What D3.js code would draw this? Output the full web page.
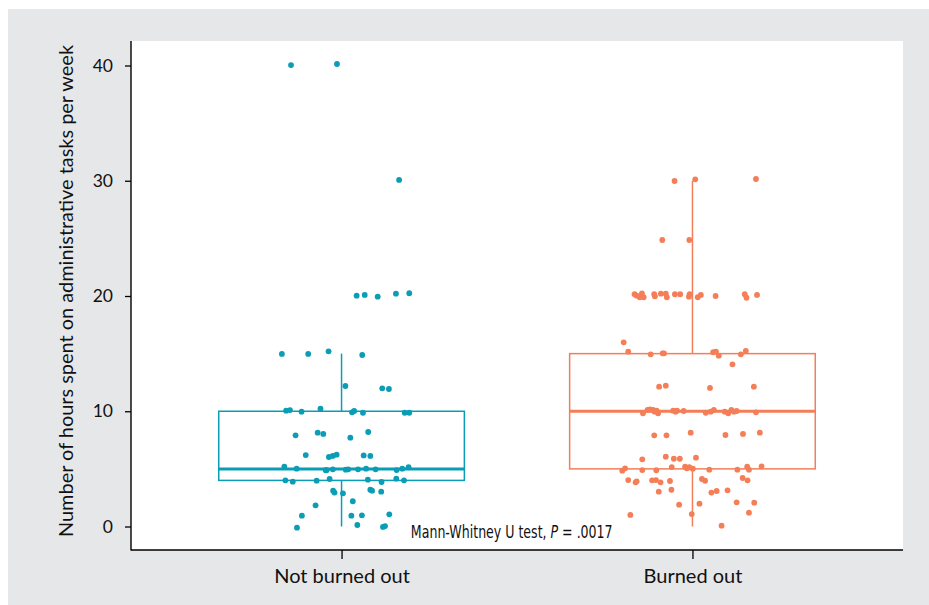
<!DOCTYPE html>
<html>
<head>
<meta charset="utf-8">
<script src="https://cdn.jsdelivr.net/npm/d3@7"></script>
<style>
  html, body { margin: 0; padding: 0; background: #ffffff; }
  svg { display: block; }
</style>
</head>
<body>
<svg id="chart" width="929" height="605"></svg>
<script>
// ---------- data ----------
const categories = ["Not burned out", "Burned out"];
const colors = ["#0a9db5", "#f47e58"];
const yTicks = [0, 10, 20, 30, 40];

// box statistics (hours)
const q1 = [4, 5];
const medians = [5, 10];
const q3 = [10, 15];
const whiskerLow = [0, 0];
const whiskerHigh = [15, 30];

// individual observations: hours (as plotted, incl. vertical jitter)
const hoursNotBurned = [40.04, 40.13, 30.07, 20.03, 20.09, 19.94, 20.2, 20.24, 14.97, 14.97, 15.2, 14.88,
  12.19, 11.99, 11.93, 10.05, 10.1, 9.96, 10.22, 9.91, 10.02, 9.87, 9.87, 9.87,
  7.91, 8.14, 8.03, 7.71, 8.2, 6.2, 6.03, 6.12, 6.23, 6.17, 6.12,
  5.19, 5.02, 4.88, 4.9, 4.96, 4.93, 4.96, 4.96, 5.02, 4.96, 4.9, 5.02, 5.14,
  4.01, 3.89, 3.98, 4.12, 4.06, 3.86, 4.15, 4.01, 3.11, 2.94, 2.88, 3.19, 3.11, 3.02,
  2.19, 1.84, 0.94, 0.94, 0.97, 1.06, -0.1, 0.13, -0.04, 0.04];
// horizontal jitter (category units)
const jitterNotBurned = [-0.144, -0.013, 0.164, 0.043, 0.066, 0.103, 0.155, 0.193, -0.170, -0.095, -0.037, 0.059,
  0.011, 0.116, 0.135, -0.158, -0.147, -0.114, -0.060, 0.030, 0.036, 0.061, 0.180, 0.193,
  -0.131, -0.068, -0.052, 0.025, 0.076, -0.102, -0.036, -0.025, -0.014, 0.063, 0.082,
  -0.163, -0.128, -0.045, -0.042, -0.025, 0.012, 0.019, 0.047, 0.070, 0.097, 0.157, 0.173, 0.191,
  -0.160, -0.139, -0.071, -0.034, 0.075, 0.114, 0.156, 0.178, -0.024, -0.020, 0.004, 0.082, 0.087, 0.113,
  0.032, -0.074, -0.113, 0.028, 0.058, 0.136, -0.127, 0.045, 0.118, 0.124];

const hoursBurned = [29.98, 30.12, 30.15, 24.86, 24.86,
  20.15, 20.03, 19.89, 20.23, 19.89, 20.15, 19.97, 20.2, 20.2, 19.89, 20.15, 20.15, 19.94, 20.15, 19.89, 20.09, 20.0, 20.15, 19.85, 20.09,
  15.98, 15.17, 14.94, 15.03, 15.03, 15.12, 15.17, 14.82, 14.94, 15.23, 14.07,
  12.13, 12.22, 12.02, 12.13,
  9.82, 10.11, 10.17, 10.11, 9.96, 10.05, 9.82, 10.05, 9.96, 10.05, 10.02, 9.87, 9.96, 10.11, 9.96, 9.82, 10.11, 9.96, 10.02, 9.91,
  7.91, 7.91, 8.14, 7.94, 8.03, 8.14,
  5.83, 6.06, 5.88, 5.88, 5.97,
  4.84, 5.05, 4.9, 4.88, 5.16, 5.19, 5.05, 5.14, 5.02, 4.93, 4.93, 5.19, 4.93, 5.22,
  4.03, 3.83, 3.92, 4.01, 4.03, 3.83, 3.95, 4.12, 3.97, 4.21, 4.01,
  3.02, 3.19, 2.94, 3.08, 3.14,
  1.89, 1.98, 2.1, 2.07,
  1.0, 1.08, 1.2, 0.07];
const jitterBurned = [-0.051, 0.008, 0.181, -0.086, -0.009,
  -0.165, -0.159, -0.150, -0.144, -0.139, -0.109, -0.107, -0.090, -0.076, -0.073, -0.050, -0.035, -0.010, -0.008, 0.015, 0.024, 0.066, 0.149, 0.154, 0.184,
  -0.196, -0.183, -0.119, -0.085, -0.081, 0.059, 0.067, 0.075, 0.138, 0.152, 0.114,
  -0.095, -0.076, 0.050, 0.175,
  -0.141, -0.128, -0.121, -0.112, -0.108, -0.102, -0.098, -0.055, -0.048, -0.044, -0.025, 0.038, 0.052, 0.061, 0.092, 0.102, 0.111, 0.118, 0.126, 0.181,
  -0.109, -0.074, -0.005, 0.094, 0.144, 0.192,
  -0.143, -0.076, -0.053, -0.036, 0.010,
  -0.200, -0.192, -0.143, -0.103, -0.059, -0.021, -0.016, -0.009, 0.001, 0.048, 0.128, 0.156, 0.161, 0.197,
  -0.183, -0.162, -0.159, -0.115, -0.104, -0.091, -0.064, 0.027, 0.036, 0.143, 0.157,
  -0.096, -0.060, 0.054, 0.069, 0.100,
  -0.038, 0.020, 0.126, 0.176,
  -0.177, -0.002, 0.161, 0.083];

const yTitle = "Number of hours spent on administrative tasks per week";
const annotationPrefix = "Mann-Whitney U test, ";
const annotationP = "P";
const annotationSuffix = " = .0017";

// ---------- layout ----------
const svg = d3.select("#chart");
const W = 929, H = 605;
const panel = { left: 131, right: 903, top: 41, bottom: 550 };

svg.append("rect").attr("x", 8).attr("y", 9).attr("width", W - 8).attr("height", H - 9)
  .attr("fill", "#e6e7e8");
svg.append("rect").attr("x", panel.left).attr("y", panel.top)
  .attr("width", panel.right - panel.left).attr("height", panel.bottom - panel.top)
  .attr("fill", "#ffffff");

const x = d3.scaleLinear().domain([0.4, 2.6]).range([panel.left, panel.right]);
const y = d3.scaleLinear().domain([0, 40]).range([526.5, 65.5]);
const boxHalf = 0.35;

const groups = [
  { hours: hoursNotBurned, jitter: jitterNotBurned },
  { hours: hoursBurned, jitter: jitterBurned }
];

// boxes
categories.forEach((c, i) => {
  const pos = i + 1;
  const g = svg.append("g").attr("stroke", colors[i]).attr("fill", "none");
  g.append("line").attr("x1", x(pos)).attr("x2", x(pos))
    .attr("y1", y(q3[i])).attr("y2", y(whiskerHigh[i])).attr("stroke-width", 1.5);
  g.append("line").attr("x1", x(pos)).attr("x2", x(pos))
    .attr("y1", y(q1[i])).attr("y2", y(whiskerLow[i])).attr("stroke-width", 1.5);
  g.append("rect").attr("x", x(pos - boxHalf)).attr("y", y(q3[i]))
    .attr("width", x(pos + boxHalf) - x(pos - boxHalf)).attr("height", y(q1[i]) - y(q3[i]))
    .attr("stroke-width", 1.5);
  g.append("line").attr("x1", x(pos - boxHalf)).attr("x2", x(pos + boxHalf))
    .attr("y1", y(medians[i])).attr("y2", y(medians[i])).attr("stroke-width", 3);
});

// points
groups.forEach((grp, i) => {
  svg.append("g").selectAll("circle").data(grp.hours).join("circle")
    .attr("cx", (d, k) => x(i + 1 + grp.jitter[k]))
    .attr("cy", d => y(d))
    .attr("r", 2.9)
    .attr("fill", colors[i]);
});

// axes
const yAxis = d3.axisLeft(y).tickValues(yTicks).tickSize(6).tickPadding(12).tickFormat(d3.format("d"));
const gy = svg.append("g").attr("transform", `translate(${panel.left},0)`).call(yAxis);
gy.select(".domain").remove();
gy.selectAll(".tick line").attr("stroke", "#000").attr("stroke-width", 1.3);
gy.selectAll(".tick text").attr("font-family", "Lato, 'Open Sans', sans-serif").attr("font-size", 17.5).attr("fill", "#111");
svg.append("line").attr("x1", panel.left).attr("x2", panel.left)
  .attr("y1", panel.top).attr("y2", panel.bottom + 0.5).attr("stroke", "#000").attr("stroke-width", 1.4);

const xAxis = d3.axisBottom(x).tickValues([1, 2]).tickSize(9).tickPadding(10)
  .tickFormat(d => categories[d - 1]);
const gx = svg.append("g").attr("transform", `translate(0,${panel.bottom})`).call(xAxis);
gx.select(".domain").remove();
gx.selectAll(".tick line").attr("stroke", "#000").attr("stroke-width", 1.3);
gx.selectAll(".tick text").attr("font-family", "Lato, 'Open Sans', sans-serif").attr("font-size", 20).attr("fill", "#111");
svg.append("line").attr("x1", panel.left).attr("x2", panel.right)
  .attr("y1", panel.bottom).attr("y2", panel.bottom).attr("stroke", "#000").attr("stroke-width", 1.4);

// y title
svg.append("text")
  .attr("transform", `translate(73,291) rotate(-90)`)
  .attr("text-anchor", "middle")
  .attr("font-family", "Lato, 'Open Sans', sans-serif")
  .attr("font-size", 20)
  .attr("textLength", 492)
  .attr("lengthAdjust", "spacingAndGlyphs")
  .attr("fill", "#111")
  .text(yTitle);

// annotation (condensed face: horizontally scaled to the reference's width)
const annG = svg.append("g");
const ann = annG.append("text")
  .attr("x", 0).attr("y", 0)
  .attr("text-anchor", "middle")
  .attr("font-family", "'Liberation Sans Narrow', 'DejaVu Sans Condensed', 'Arial Narrow', sans-serif")
  .attr("font-stretch", "condensed")
  .attr("font-size", 17)
  .attr("fill", "#111");
ann.append("tspan").text(annotationPrefix);
ann.append("tspan").attr("font-style", "italic").text(annotationP);
ann.append("tspan").text(annotationSuffix);
const annW = ann.node().getComputedTextLength() || 202;
const sx = Math.min(1, 202 / annW);
annG.attr("transform", `translate(${x(1.485)},${y(-1.0)}) scale(${sx},1)`);
</script>
</body>
</html>
